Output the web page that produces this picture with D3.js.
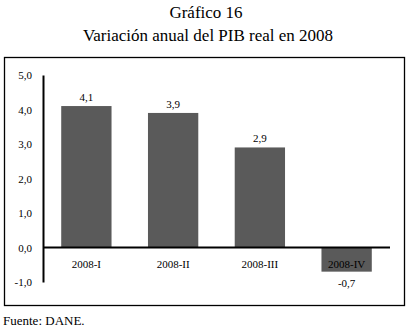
<!DOCTYPE html>
<html>
<head>
<meta charset="utf-8">
<script src="https://cdn.jsdelivr.net/npm/d3@7"></script>
<style>
  body { margin: 0; background: #fff; }
  svg text { font-family: "Liberation Serif", "Times New Roman", serif; }
</style>
</head>
<body>
<div id="chart"></div>
<script>
// data
var periods = ["2008-I", "2008-II", "2008-III", "2008-IV"];
var growth = [4.1, 3.9, 2.9, -0.7];
var yTicks = [-1, 0, 1, 2, 3, 4, 5];

var w = 411;
var h = 331;

var svg = d3.select('#chart')
  .append('svg')
    .attr('width', w)
    .attr('height', h);

// titles
svg.append('text')
  .text('Gráfico 16')
  .attr('x', 206)
  .attr('y', 18)
  .attr('text-anchor', 'middle')
  .attr('font-size', 17);

svg.append('text')
  .text('Variación anual del PIB real en 2008')
  .attr('x', 208)
  .attr('y', 41)
  .attr('text-anchor', 'middle')
  .attr('font-size', 17);

// frame
svg.append('rect')
  .attr('x', 4.5)
  .attr('y', 57.5)
  .attr('width', 400)
  .attr('height', 248)
  .attr('fill', 'none')
  .attr('stroke', '#000')
  .attr('stroke-width', 1.3);

var x = d3.scaleBand()
  .domain(periods)
  .range([43, 390])
  .paddingInner(0.42)
  .paddingOuter(0.21);

var y = d3.scaleLinear()
  .domain([-1, 5])
  .range([282, 75]);

// comma decimals, plain hyphen for negatives
var fmt = function(v) { return v.toFixed(1).replace('.', ','); };

// bars
svg.selectAll('.bar')
  .data(periods)
  .enter()
  .append('rect')
    .attr('class', 'bar')
    .attr('x', function(d) { return x(d); })
    .attr('width', x.bandwidth())
    .attr('y', function(d, i) { return y(Math.max(0, growth[i])); })
    .attr('height', function(d, i) { return Math.abs(y(growth[i]) - y(0)); })
    .attr('fill', '#5a5a5a');

// y axis
var yAxis = svg.append('g')
  .attr('transform', 'translate(43, 0)')
  .call(d3.axisLeft(y).tickValues(yTicks).tickSize(0).tickPadding(11).tickFormat(fmt));
yAxis.select('.domain').attr('stroke', '#000').attr('stroke-width', 2);
yAxis.selectAll('text')
  .attr('font-family', '"Liberation Serif", serif')
  .attr('font-size', 11)
  .attr('fill', '#000');

// zero line
svg.append('line')
  .attr('x1', 43)
  .attr('x2', 390)
  .attr('y1', y(0))
  .attr('y2', y(0))
  .attr('stroke', '#000')
  .attr('stroke-width', 2);

// category labels
svg.selectAll('.cat')
  .data(periods)
  .enter()
  .append('text')
    .attr('class', 'cat')
    .text(function(d) { return d; })
    .attr('x', function(d) { return x(d) + x.bandwidth() / 2; })
    .attr('y', y(0) + 20)
    .attr('text-anchor', 'middle')
    .attr('font-size', 11);

// value labels
svg.selectAll('.val')
  .data(periods)
  .enter()
  .append('text')
    .attr('class', 'val')
    .text(function(d, i) { return fmt(growth[i]); })
    .attr('x', function(d) { return x(d) + x.bandwidth() / 2; })
    .attr('y', function(d, i) { return growth[i] >= 0 ? y(growth[i]) - 5 : y(growth[i]) + 15; })
    .attr('text-anchor', 'middle')
    .attr('font-size', 11);

// source
svg.append('text')
  .text('Fuente: DANE.')
  .attr('x', 3)
  .attr('y', 325)
  .attr('font-size', 13);
</script>
</body>
</html>
